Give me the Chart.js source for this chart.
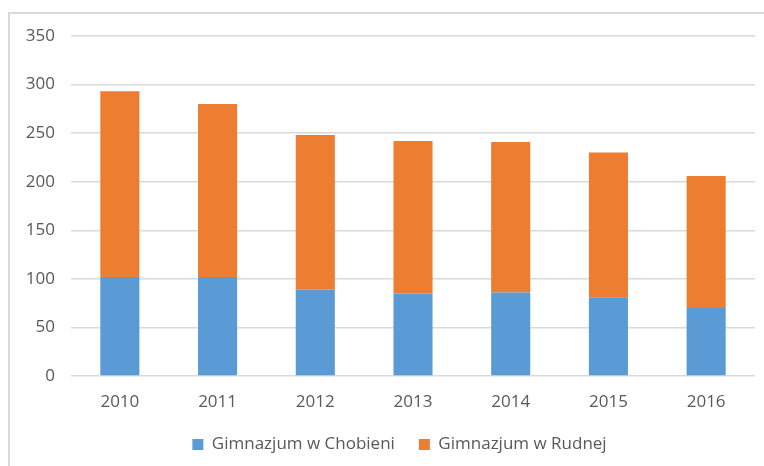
<!DOCTYPE html>
<html>
<head>
<meta charset="utf-8">
<script src="https://cdn.jsdelivr.net/npm/chart.js@4"></script>
<style>
  html, body { margin: 0; padding: 0; background: #fff; }
  #wrap { position: relative; width: 764px; height: 466px; overflow: hidden; }
  #frame { position: absolute; left: 8px; top: 12px; width: 800px; height: 500px;
           border-top: 2px solid #d9d9d9; border-left: 2px solid #d9d9d9; }
  #chart { position: absolute; left: 0; top: 0; }
</style>
</head>
<body>
<div id="wrap">
  <div id="frame"></div>
  <canvas id="chart" width="764" height="466"></canvas>
</div>
<script>
const years = ['2010', '2011', '2012', '2013', '2014', '2015', '2016'];
const chobieni = [102, 102, 89, 85, 86, 81, 70];
const rudnej = [191, 178, 159, 157, 155, 149, 136];
const labelNames = ['Gimnazjum w Chobieni', 'Gimnazjum w Rudnej'];

const textColor = '#595959';
const gridColor = '#d9d9d9';
Chart.defaults.font.family = "'Open Sans', 'Noto Sans', sans-serif";
Chart.defaults.font.size = 17;
Chart.defaults.color = textColor;

const ctx = document.getElementById('chart').getContext('2d');
//stacked bars, blue at the bottom
const chart1 = new Chart(ctx, {
  type: 'bar',
  data: {
    labels: years,
    datasets: [
      { label: labelNames[0], data: chobieni, backgroundColor: '#5b9bd5',
        barPercentage: 0.4, categoryPercentage: 1 },
      { label: labelNames[1], data: rudnej, backgroundColor: '#ed7d31',
        barPercentage: 0.4, categoryPercentage: 1 }
    ]
  },
  options: {
    responsive: false,
    animation: false,
    // negative right padding moves the legend centre to the frame centre,
    // the empty right axis below keeps the plot inside the frame
    layout: { padding: { top: 36, right: -35, left: 0, bottom: 3 } },
    plugins: {
      legend: {
        position: 'bottom',
        labels: { boxWidth: 11, boxHeight: 11, padding: 24, color: textColor }
      },
      tooltip: { enabled: false }
    },
    scales: {
      x: {
        stacked: true,
        grid: { display: false },
        border: { display: false },
        ticks: { padding: 8 },
        afterFit: function(scale) { scale.height = 36; }
      },
      y: {
        stacked: true,
        min: 0,
        max: 350,
        ticks: { stepSize: 50, padding: 16 },
        grid: { color: gridColor, lineWidth: 1.5, drawTicks: false },
        border: { display: false },
        afterFit: function(scale) { scale.width = 71; }
      },
      spacer: {
        type: 'linear',
        position: 'right',
        grid: { display: false },
        ticks: { display: false },
        border: { display: false },
        afterFit: function(scale) { scale.width = 44; }
      }
    }
  }
});
</script>
</body>
</html>
